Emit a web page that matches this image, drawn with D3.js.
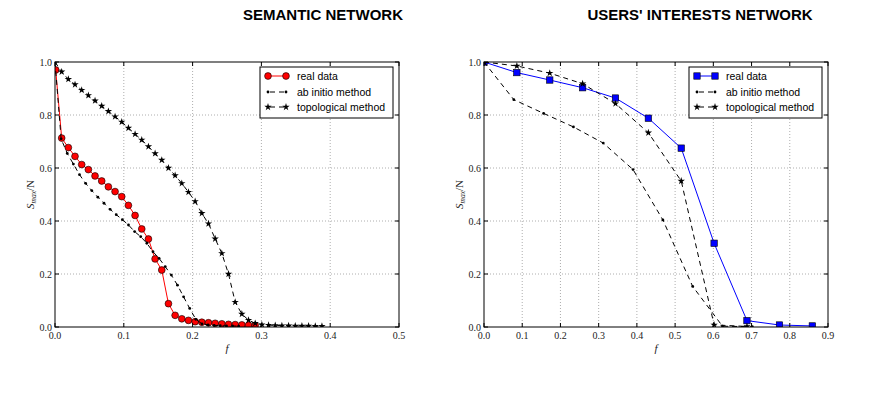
<!DOCTYPE html>
<meta charset="utf-8">
<body style="margin:0;background:#fff">
<style>
.tick-label { font: 10px "Liberation Serif", "DejaVu Serif", serif; fill: #222; }
.legend-text { font: 10.5px "Liberation Sans", Arial, sans-serif; fill: #000; }
.title { font: bold 15px "Liberation Sans", Arial, sans-serif; fill: #000; }
.axis-label { font: italic 11px "Liberation Serif", "DejaVu Serif", serif; fill: #222; }
</style>
<script src="https://d3js.org/d3.v7.min.js"></script>
<script>

// ---- semantic network ----
var semRealF = [0.001, 0.0097, 0.0194, 0.0291, 0.0388, 0.0485, 0.0582, 0.0679, 0.0776, 0.0873, 0.097, 0.1067, 0.1164, 0.1261, 0.1358, 0.1455, 0.1552, 0.1649, 0.1746, 0.1843, 0.194, 0.2037, 0.2134, 0.2231, 0.2328, 0.2425, 0.2522, 0.2619, 0.2716, 0.2813, 0.291];
var semRealS = [0.97, 0.713, 0.677, 0.644, 0.613, 0.594, 0.570, 0.551, 0.529, 0.511, 0.492, 0.459, 0.421, 0.370, 0.332, 0.257, 0.215, 0.088, 0.044, 0.031, 0.025, 0.020, 0.018, 0.016, 0.014, 0.012, 0.010, 0.009, 0.008, 0.007, 0.006];

var semAbF = [0, 0.0089, 0.0178, 0.0267, 0.0356, 0.0445, 0.0534, 0.0623, 0.0712, 0.0801, 0.089, 0.0979, 0.1068, 0.1157, 0.1246, 0.1335, 0.1424, 0.1513, 0.1602, 0.1691, 0.178, 0.1869, 0.1958, 0.2047, 0.2136, 0.2225, 0.2314, 0.2403, 0.2492, 0.2581, 0.267];
var semAbS = [1.0, 0.71, 0.655, 0.615, 0.575, 0.542, 0.515, 0.490, 0.467, 0.444, 0.424, 0.405, 0.385, 0.360, 0.341, 0.316, 0.284, 0.259, 0.228, 0.196, 0.158, 0.114, 0.070, 0.029, 0.012, 0.008, 0.006, 0.005, 0.004, 0.004, 0.003];

var semTopoF = [0, 0.0097, 0.0194, 0.0291, 0.0388, 0.0485, 0.0582, 0.0679, 0.0776, 0.0873, 0.097, 0.1067, 0.1164, 0.1261, 0.1358, 0.1455, 0.1552, 0.1649, 0.1746, 0.1843, 0.194, 0.2037, 0.2134, 0.2231, 0.2328, 0.2425, 0.2522, 0.2619, 0.2716, 0.2813, 0.291, 0.3007, 0.3104, 0.3201, 0.3298, 0.3395, 0.3492, 0.3589, 0.3686, 0.3783, 0.388];
var semTopoS = [1.0, 0.963, 0.935, 0.915, 0.894, 0.874, 0.854, 0.834, 0.814, 0.794, 0.774, 0.751, 0.728, 0.706, 0.681, 0.655, 0.630, 0.600, 0.572, 0.542, 0.509, 0.474, 0.429, 0.390, 0.333, 0.278, 0.200, 0.094, 0.049, 0.026, 0.014, 0.009, 0.007, 0.006, 0.005, 0.005, 0.004, 0.004, 0.004, 0.003, 0.003];

// ---- users' interests network ----
var usrRealF = [0, 0.086, 0.172, 0.258, 0.344, 0.430, 0.516, 0.602, 0.688, 0.773, 0.859];
var usrRealS = [1.0, 0.960, 0.932, 0.903, 0.864, 0.788, 0.675, 0.316, 0.024, 0.0075, 0.004];

var usrAbF = [0, 0.078, 0.156, 0.234, 0.312, 0.390, 0.468, 0.546, 0.624, 0.702];
var usrAbS = [1.0, 0.858, 0.806, 0.755, 0.694, 0.594, 0.404, 0.153, 0.003, 0.001];

var usrTopoF = [0, 0.086, 0.172, 0.258, 0.344, 0.430, 0.516, 0.602, 0.688];
var usrTopoS = [1.0, 0.985, 0.958, 0.918, 0.843, 0.733, 0.551, 0.008, 0.002];

var yTicks = [0, 0.2, 0.4, 0.6, 0.8, 1.0];
var semXTicks = [0, 0.1, 0.2, 0.3, 0.4, 0.5];
var usrXTicks = [0, 0.1, 0.2, 0.3, 0.4, 0.5, 0.6, 0.7, 0.8, 0.9];
var titles = ["SEMANTIC NETWORK", "USERS' INTERESTS NETWORK"];
var legendNames = ["real data", "ab initio method", "topological method"];

var width = 872, height = 398;

var svg = d3.select("body").append("svg")
    .attr("width", width)
    .attr("height", height);

var panels = [
  { x0: 55, x1: 399, xmax: 0.5, xticks: semXTicks, title: titles[0], titleX: 323,
    real: [semRealF, semRealS], ab: [semAbF, semAbS], topo: [semTopoF, semTopoS], color: "#ff0000", marker: "circle" },
  { x0: 484, x1: 828, xmax: 0.9, xticks: usrXTicks, title: titles[1], titleX: 700,
    real: [usrRealF, usrRealS], ab: [usrAbF, usrAbS], topo: [usrTopoF, usrTopoS], color: "#0000ff", marker: "square" }
];
var y0 = 62, y1 = 327;

function zip(a) { return a[0].map(function(f, i) { return [f, a[1][i]]; }); }

var star = d3.symbol().type(d3.symbolStar).size(17);

function drawMarker(g, type, color) {
  if (type == "circle") {
    g.append("circle").attr("r", 3.4).attr("fill", color).attr("stroke", "#000").attr("stroke-width", 0.6);
  } else if (type == "square") {
    g.append("rect").attr("x", -3.2).attr("y", -3.2).attr("width", 6.4).attr("height", 6.4)
      .attr("fill", color).attr("stroke", "#000").attr("stroke-width", 0.6);
  } else if (type == "dot") {
    g.append("circle").attr("r", 1.4).attr("fill", "#000");
  } else {
    g.append("path").attr("d", star).attr("fill", "#000");
  }
}

panels.forEach(function(p, pi) {
  var x = d3.scaleLinear().domain([0, p.xmax]).range([p.x0, p.x1]);
  var y = d3.scaleLinear().domain([0, 1]).range([y1, y0]);
  var g = svg.append("g");

  // title
  g.append("text").attr("class", "title")
    .attr("x", p.titleX).attr("y", 20).attr("text-anchor", "middle")
    .text(p.title);

  // grid
  g.selectAll(".gx").data(p.xticks.slice(1, -1)).enter().append("line")
    .attr("x1", function(d) { return x(d); }).attr("x2", function(d) { return x(d); })
    .attr("y1", y0).attr("y2", y1)
    .attr("stroke", "#999").attr("stroke-width", 0.8).attr("stroke-dasharray", "1,2");
  g.selectAll(".gy").data(yTicks.slice(1, -1)).enter().append("line")
    .attr("y1", function(d) { return y(d); }).attr("y2", function(d) { return y(d); })
    .attr("x1", p.x0).attr("x2", p.x1)
    .attr("stroke", "#999").attr("stroke-width", 0.8).attr("stroke-dasharray", "1,2");

  // clip
  var clipId = "clip" + pi;
  svg.append("clipPath").attr("id", clipId).append("rect")
    .attr("x", p.x0).attr("y", y0).attr("width", p.x1 - p.x0).attr("height", y1 - y0);
  var plot = g.append("g").attr("clip-path", "url(#" + clipId + ")");

  var line = d3.line().x(function(d) { return x(d[0]); }).y(function(d) { return y(d[1]); });

  // real data
  var real = zip(p.real);
  plot.append("path").datum(real).attr("d", line)
    .attr("fill", "none").attr("stroke", p.color).attr("stroke-width", 1);
  real.forEach(function(d) {
    drawMarker(plot.append("g").attr("transform", "translate(" + x(d[0]) + "," + y(d[1]) + ")"), p.marker, p.color);
  });

  // ab initio
  var ab = zip(p.ab);
  plot.append("path").datum(ab).attr("d", line)
    .attr("fill", "none").attr("stroke", "#000").attr("stroke-width", 1).attr("stroke-dasharray", "5,4");
  ab.forEach(function(d) {
    drawMarker(plot.append("g").attr("transform", "translate(" + x(d[0]) + "," + y(d[1]) + ")"), "dot");
  });

  // topological
  var topo = zip(p.topo);
  plot.append("path").datum(topo).attr("d", line)
    .attr("fill", "none").attr("stroke", "#000").attr("stroke-width", 1).attr("stroke-dasharray", "5,4");
  topo.forEach(function(d) {
    drawMarker(plot.append("g").attr("transform", "translate(" + x(d[0]) + "," + y(d[1]) + ")"), "star");
  });

  // frame
  g.append("rect").attr("x", p.x0).attr("y", y0).attr("width", p.x1 - p.x0).attr("height", y1 - y0)
    .attr("fill", "none").attr("stroke", "#000").attr("stroke-width", 1);

  // inward ticks on all sides
  p.xticks.forEach(function(t) {
    g.append("line").attr("x1", x(t)).attr("x2", x(t)).attr("y1", y1).attr("y2", y1 - 4).attr("stroke", "#000");
    g.append("line").attr("x1", x(t)).attr("x2", x(t)).attr("y1", y0).attr("y2", y0 + 4).attr("stroke", "#000");
    g.append("text").attr("class", "tick-label")
      .attr("x", x(t)).attr("y", y1 + 12).attr("text-anchor", "middle")
      .text(d3.format(".1f")(t));
  });
  yTicks.forEach(function(t) {
    g.append("line").attr("y1", y(t)).attr("y2", y(t)).attr("x1", p.x0).attr("x2", p.x0 + 4).attr("stroke", "#000");
    g.append("line").attr("y1", y(t)).attr("y2", y(t)).attr("x1", p.x1).attr("x2", p.x1 - 4).attr("stroke", "#000");
    g.append("text").attr("class", "tick-label")
      .attr("x", p.x0 - 3).attr("y", y(t) + 3.5).attr("text-anchor", "end")
      .text(d3.format(".1f")(t));
  });

  // axis labels
  g.append("text").attr("class", "axis-label")
    .attr("x", (p.x0 + p.x1) / 2).attr("y", y1 + 25).attr("text-anchor", "middle").text("f");
  var yl = g.append("text").attr("class", "axis-label")
    .attr("transform", "translate(" + (p.x0 - 21) + "," + ((y0 + y1) / 2) + ") rotate(-90)")
    .attr("text-anchor", "middle");
  yl.append("tspan").text("S");
  yl.append("tspan").attr("font-size", "7.5px").attr("dy", 2).text("max");
  yl.append("tspan").attr("dy", -2).attr("font-style", "normal").text("/N");

  // legend
  var lx = p.x1 - 139, ly = 67;
  var lg = g.append("g").attr("transform", "translate(" + lx + "," + ly + ")");
  lg.append("rect").attr("width", 133).attr("height", 51)
    .attr("fill", "#fff").attr("stroke", "#000").attr("stroke-width", 1);
  var rows = [9, 25, 40];
  var kinds = [p.marker, "dot", "star"];
  rows.forEach(function(ry, i) {
    var ln = lg.append("line").attr("x1", 8).attr("x2", 26).attr("y1", ry).attr("y2", ry)
      .attr("stroke", i == 0 ? p.color : "#000").attr("stroke-width", 1);
    if (i > 0) ln.attr("stroke-dasharray", "5,4").attr("stroke-dashoffset", -2);
    [8, 26].forEach(function(mx) {
      drawMarker(lg.append("g").attr("transform", "translate(" + mx + "," + ry + ")"), kinds[i], p.color);
    });
    lg.append("text").attr("class", "legend-text")
      .attr("x", 37).attr("y", ry + 4).text(legendNames[i]);
  });
});

</script>
</body>
